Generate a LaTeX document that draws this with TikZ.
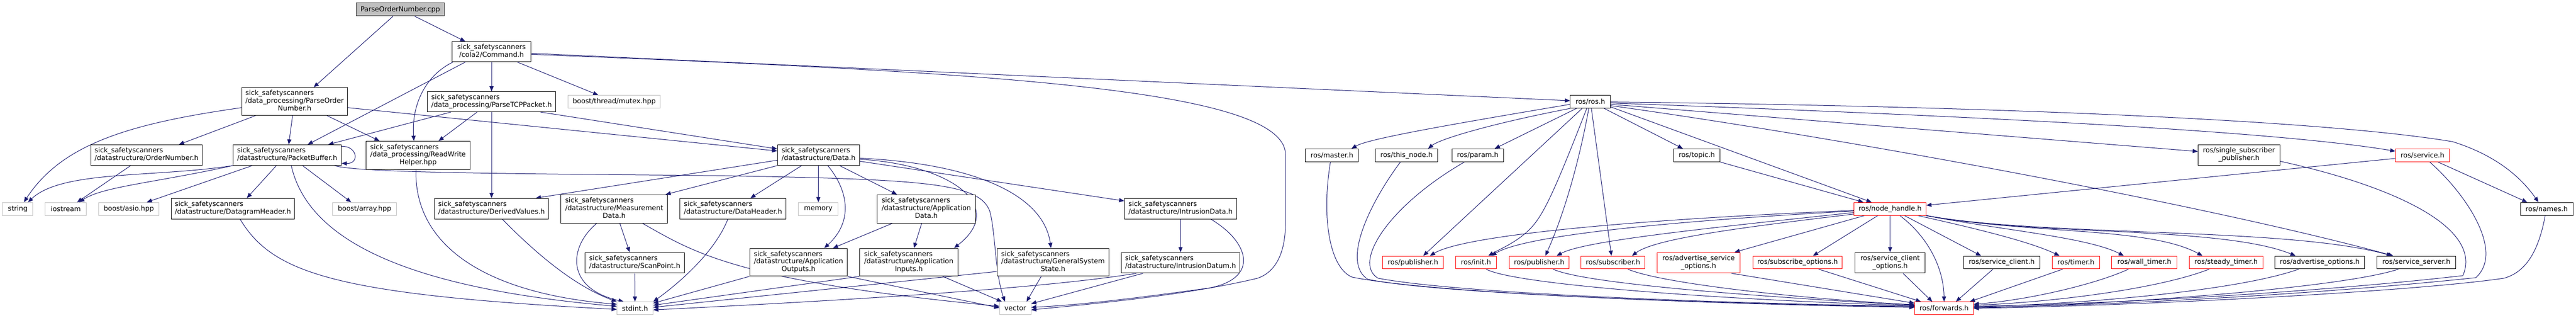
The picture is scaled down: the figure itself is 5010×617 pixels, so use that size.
\documentclass[tikz,border=0pt]{standalone}
\usepackage{fontspec}
\setmainfont{DejaVu Sans}
\usetikzlibrary{arrows.meta,calc}
\pgfdeclarelayer{bg}
\pgfsetlayers{bg,main}
\definecolor{edgec}{HTML}{191970}
\definecolor{extgray}{HTML}{BFBFBF}
\newcommand\nf{\fontsize{13.3}{14.7}\selectfont}
\newcommand\twoline[2]{\begin{tabular}{@{}l@{}}#1\\\multicolumn{1}{@{}c@{}}{#2}\end{tabular}}
\newcommand\threeline[3]{\begin{tabular}{@{}l@{}}#1\\#2\\\multicolumn{1}{@{}c@{}}{#3}\end{tabular}}
\newcommand\sick{sick\_safetyscanners}
\tikzset{
  box/.style={draw=black, line width=1pt, fill=white, inner sep=0pt, font=\nf},
  ext/.style={box, draw=extgray},
  trunc/.style={box, draw=red},
  rootbox/.style={box, fill=extgray, draw=black!80},
  e/.style={draw=edgec, line width=1pt, -{Triangle[length=10pt,width=8pt]}},
}
\begin{document}
\begin{tikzpicture}[x=1pt,y=-1pt]
\begin{pgfonlayer}{bg}
\fill[white] (0,0) rectangle (5010,617);
\end{pgfonlayer}
\useasboundingbox (0,0) rectangle (5010,617);
% ---- nodes ----
\node[rootbox, minimum width=171pt, minimum height=25pt] (cpp) at (778.5,18.5) {ParseOrderNumber.cpp};
\node[box, minimum width=154pt, minimum height=39pt] (cmd) at (956,100.5) {\twoline{\sick}{/cola2/Command.h}};
\node[box, minimum width=206pt, minimum height=54pt] (pon) at (573,197) {\threeline{\sick}{/data\_processing/ParseOrder}{Number.h}};
\node[box, minimum width=250pt, minimum height=39pt] (tcp) at (956,197.5) {\twoline{\sick}{/data\_processing/ParseTCPPacket.h}};
\node[ext, minimum width=179pt, minimum height=25pt] (mutex) at (1194.5,197.5) {boost/thread/mutex.hpp};
\node[box, minimum width=78pt, minimum height=25pt] (ros) at (3093,197.5) {ros/ros.h};
\node[box, minimum width=216pt, minimum height=40pt] (ordnum) at (285,301) {\twoline{\sick}{/datastructure/OrderNumber.h}};
\node[box, minimum width=211pt, minimum height=40pt] (pb) at (558.5,301) {\twoline{\sick}{/datastructure/PacketBuffer.h}};
\node[box, minimum width=202pt, minimum height=55pt] (rwh) at (813,301.5) {\threeline{\sick}{/data\_processing/ReadWrite}{Helper.hpp}};
\node[box, minimum width=160pt, minimum height=40pt] (data) at (1592,301) {\twoline{\sick}{/datastructure/Data.h}};
\node[box, minimum width=103pt, minimum height=25pt] (master) at (2590.5,301.5) {ros/master.h};
\node[box, minimum width=121pt, minimum height=25pt] (thisnode) at (2735.5,301.5) {ros/this\_node.h};
\node[box, minimum width=100pt, minimum height=25pt] (param) at (2874,301.5) {ros/param.h};
\node[box, minimum width=90pt, minimum height=25pt] (topic) at (3300,301.5) {ros/topic.h};
\node[box, minimum width=159pt, minimum height=40pt] (ssp) at (4354.5,301) {\twoline{ros/single\_subscriber}{\_publisher.h}};
\node[trunc, minimum width=105pt, minimum height=25pt] (service) at (4711.5,301.5) {ros/service.h};
\node[ext, minimum width=59pt, minimum height=25pt] (string) at (34.5,405.5) {string};
\node[ext, minimum width=80pt, minimum height=25pt] (iostream) at (128,405.5) {iostream};
\node[ext, minimum width=117pt, minimum height=25pt] (asio) at (250.5,405.5) {boost/asio.hpp};
\node[box, minimum width=240pt, minimum height=40pt] (dgh) at (453,405) {\twoline{\sick}{/datastructure/DatagramHeader.h}};
\node[ext, minimum width=124pt, minimum height=25pt] (array) at (709,405.5) {boost/array.hpp};
\node[box, minimum width=222pt, minimum height=40pt] (dv) at (956,405) {\twoline{\sick}{/datastructure/DerivedValues.h}};
\node[box, minimum width=207pt, minimum height=55pt] (md) at (1194.5,405.5) {\threeline{\sick}{/datastructure/Measurement}{Data.h}};
\node[box, minimum width=207pt, minimum height=40pt] (dh) at (1425.5,405) {\twoline{\sick}{/datastructure/DataHeader.h}};
\node[ext, minimum width=77pt, minimum height=25pt] (memory) at (1591.5,405.5) {memory};
\node[box, minimum width=191pt, minimum height=55pt] (ad) at (1801.5,405.5) {\threeline{\sick}{/datastructure/Application}{Data.h}};
\node[box, minimum width=218pt, minimum height=40pt] (idata) at (2296,405) {\twoline{\sick}{/datastructure/IntrusionData.h}};
\node[trunc, minimum width=140pt, minimum height=25pt] (nh) at (3676,405.5) {ros/node\_handle.h};
\node[box, minimum width=102pt, minimum height=25pt] (names) at (4953,405.5) {ros/names.h};
\node[box, minimum width=193pt, minimum height=40pt] (sp) at (1234.5,510) {\twoline{\sick}{/datastructure/ScanPoint.h}};
\node[box, minimum width=190pt, minimum height=54pt] (ao) at (1553,509) {\threeline{\sick}{/datastructure/Application}{Outputs.h}};
\node[box, minimum width=191pt, minimum height=54pt] (ai) at (1767.5,509) {\threeline{\sick}{/datastructure/Application}{Inputs.h}};
\node[box, minimum width=218pt, minimum height=54pt] (gss) at (2048,509) {\threeline{\sick}{/datastructure/GeneralSystem}{State.h}};
\node[box, minimum width=230pt, minimum height=40pt] (idatum) at (2296,510) {\twoline{\sick}{/datastructure/IntrusionDatum.h}};
\node[trunc, minimum width=118pt, minimum height=25pt] (pub1) at (2748,509.5) {ros/publisher.h};
\node[trunc, minimum width=79pt, minimum height=25pt] (init) at (2870.5,509.5) {ros/init.h};
\node[trunc, minimum width=117pt, minimum height=25pt] (pub2) at (2993.5,509.5) {ros/publisher.h};
\node[trunc, minimum width=124pt, minimum height=25pt] (sub) at (3137,509.5) {ros/subscriber.h};
\node[trunc, minimum width=161pt, minimum height=40pt] (aso) at (3303.5,510) {\twoline{ros/advertise\_service}{\_options.h}};
\node[trunc, minimum width=174pt, minimum height=25pt] (so) at (3496,509.5) {ros/subscribe\_options.h};
\node[box, minimum width=136pt, minimum height=40pt] (sco) at (3676,510) {\twoline{ros/service\_client}{\_options.h}};
\node[box, minimum width=148pt, minimum height=25pt] (sc) at (3893,509.5) {ros/service\_client.h};
\node[trunc, minimum width=93pt, minimum height=25pt] (timer) at (4037.5,509.5) {ros/timer.h};
\node[trunc, minimum width=127pt, minimum height=25pt] (wt) at (4170.5,509.5) {ros/wall\_timer.h};
\node[trunc, minimum width=143pt, minimum height=25pt] (st) at (4329.5,509.5) {ros/steady\_timer.h};
\node[box, minimum width=175pt, minimum height=25pt] (adopt) at (4511.5,509.5) {ros/advertise\_options.h};
\node[box, minimum width=153pt, minimum height=25pt] (ss) at (4699.5,509.5) {ros/service\_server.h};
\node[ext, minimum width=70pt, minimum height=25pt] (stdint) at (1235,598.5) {stdint.h};
\node[ext, minimum width=61pt, minimum height=25pt] (vector) at (1974.5,598.5) {vector};
\node[trunc, minimum width=114pt, minimum height=25pt] (fwd) at (3781,598.5) {ros/forwards.h};
% ---- edges ----
\begin{pgfonlayer}{bg}
\draw[e] ($(cpp.south)+(-14,0)$) -- ($(pon.north)+(37,0)$);
\draw[e] ($(cpp.south)+(28,0)$) -- ($(cmd.north)+(-51,0)$);
\draw[e] ($(cmd.south)+(-51,0)$) -- ($(pb.north)+(40,0)$);
\draw[e] ($(cmd.south)+(-75,0)$) .. controls (830,145) and (800,200) .. ($(rwh.north)+(-8,0)$);
\draw[e] (cmd) -- (tcp);
\draw[e] ($(cmd.south)+(50,0)$) -- ($(mutex.north)+(-31,0)$);
\draw[e] ($(cmd.east)+(0,3)$) -- ($(ros.west)+(0,-2)$);
\draw[e] ($(cmd.east)+(0,5)$) .. controls (1900,140) and (2500,170) .. (2500,300) -- (2500,433) .. controls (2500,500) and (2475,530) .. (2446,540) .. controls (2300,575) and (2100,592) .. ($(vector.east)+(0,3)$);
\draw[e] ($(pon.west)+(0,12)$) .. controls (250,240) and (120,280) .. ($(string.north)+(12,0)$);
\draw[e] ($(pon.south)+(-76,0)$) -- ($(ordnum.north)+(63,0)$);
\draw[e] ($(pon.south)+(-4,0)$) -- ($(pb.north)+(3,0)$);
\draw[e] ($(pon.south)+(63,0)$) -- ($(rwh.north)+(-75,0)$);
\draw[e] ($(pon.east)+(0,12)$) -- ($(data.west)+(0,-8)$);
\draw[e] ($(tcp.south)+(-79,0)$) -- ($(pb.north)+(80,0)$);
\draw[e] ($(tcp.south)+(-28,0)$) -- ($(rwh.north)+(40,0)$);
\draw[e] (tcp) -- (dv);
\draw[e] ($(tcp.south)+(95,0)$) -- ($(data.west)+(0,-12)$);
\draw[e] ($(pb.east)+(0,-17)$) .. controls (695,283) and (700,318) .. ($(pb.east)+(0,16)$);
\draw[e] (pb.south west) .. controls (300,345) and (120,330) .. ($(string.north)+(20,0)$);
\draw[e] (pb.south west) .. controls (300,355) and (200,362) .. ($(iostream.north)+(26,0)$);
\draw[e] ($(ordnum.south)+(-31,0)$) -- ($(iostream.north)+(22,0)$);
\draw[e] ($(pb.south)+(-68,0)$) -- ($(asio.north)+(35,0)$);
\draw[e] ($(pb.south)+(-21,0)$) -- ($(dgh.north)+(27,0)$);
\draw[e] ($(pb.south)+(30,0)$) -- ($(array.north)+(-26,0)$);
\draw[e] ($(pb.south)+(8,0)$) .. controls (600,470) and (800,560) .. ($(stdint.west)+(0,-4)$);
\draw[e] ($(pb.south)+(92,0)$) .. controls (700,336) and (1000,337) .. (1400,341) .. controls (1800,348) and (1905,355) .. (1925,410) .. controls (1936,450) and (1935,530) .. ($(vector.north)+(-20,0)$);
\draw[e] ($(dgh.south)+(14,0)$) .. controls (530,530) and (650,572) .. ($(stdint.west)+(0,2)$);
\draw[e] ($(rwh.south)+(-4,0)$) .. controls (805,480) and (950,570) .. ($(stdint.west)+(0,-8)$);
\draw[e] ($(dv.south)+(21,0)$) .. controls (1060,510) and (1130,560) .. (stdint.north west);
\draw[e] ($(md.south)+(11,0)$) -- ($(sp.north)+(-10,0)$);
\draw[e] ($(md.south)+(-34,0)$) .. controls (1105,480) and (1100,560) .. ($(stdint.north)+(-22,0)$);
\draw[e] ($(md.south)+(55,0)$) .. controls (1350,490) and (1430,545) .. ($(vector.west)+(0,-4)$);
\draw[e] (sp) -- (stdint);
\draw[e] ($(dh.south)+(-10,0)$) .. controls (1390,490) and (1320,550) .. (stdint.north east);
\draw[e] ($(data.west)+(0,10)$) -- ($(dv.north)+(86,0)$);
\draw[e] (data.south west) -- ($(md.north)+(100,0)$);
\draw[e] ($(data.south)+(-33,0)$) -- ($(dh.north)+(34,0)$);
\draw[e] (data) -- (memory);
\draw[e] ($(data.south)+(18,0)$) .. controls (1650,370) and (1660,430) .. ($(ao.north)+(50,0)$);
\draw[e] ($(data.south)+(41,0)$) -- ($(ad.north)+(-57,0)$);
\draw[e] ($(data.east)+(0,8)$) .. controls (1850,320) and (1960,400) .. ($(ai.north)+(88,0)$);
\draw[e] ($(data.east)+(0,6)$) .. controls (1900,318) and (2030,380) .. ($(gss.north)+(-4,0)$);
\draw[e] ($(data.east)+(0,12)$) -- ($(idata.west)+(0,-15)$);
\draw[e] ($(ad.south)+(-66,0)$) -- ($(ao.north)+(67,0)$);
\draw[e] ($(ad.south)+(-9,0)$) -- ($(ai.north)+(10,0)$);
\draw[e] (ao.south west) -- ($(stdint.east)+(0,-10)$);
\draw[e] (ao.south east) -- ($(vector.west)+(0,-1)$);
\draw[e] (ai.south west) -- ($(stdint.east)+(0,-6)$);
\draw[e] ($(ai.south)+(66,0)$) -- ($(vector.north)+(-26,0)$);
\draw[e] ($(gss.west)+(0,18)$) -- ($(stdint.east)+(0,-2)$);
\draw[e] ($(gss.south)+(-23,0)$) -- ($(vector.north)+(22,0)$);
\draw[e] (idata) -- (idatum);
\draw[e] ($(idata.south)+(59,0)$) .. controls (2430,470) and (2450,540) .. (2352,559) .. controls (2200,580) and (2100,592) .. ($(vector.east)+(0,-2)$);
\draw[e] ($(idatum.south)+(-86,0)$) .. controls (2000,565) and (1500,590) .. ($(stdint.east)+(0,3)$);
\draw[e] ($(idatum.south)+(-73,0)$) -- ($(vector.east)+(0,-9)$);
% ros part
\draw[e] ($(ros.west)+(0,5)$) .. controls (2800,245) and (2660,270) .. ($(master.north)+(38,0)$);
\draw[e] (ros.south west) .. controls (2900,240) and (2800,270) .. ($(thisnode.north)+(42,0)$);
\draw[e] ($(ros.south)+(-27,0)$) -- ($(param.north)+(33,0)$);
\draw[e] ($(ros.south)+(-16,0)$) -- ($(pub1.north)+(20,0)$);
\draw[e] ($(ros.south)+(-7,0)$) .. controls (3020,380) and (3000,420) .. (2975,445) .. controls (2950,470) and (2920,482) .. ($(init.north)+(24,0)$);
\draw[e] ($(ros.south)+(-3,0)$) .. controls (3070,320) and (3040,420) .. ($(pub2.north)+(12,0)$);
\draw[e] ($(ros.south)+(2,0)$) -- ($(sub.north)+(-3,0)$);
\draw[e] ($(ros.south)+(27,0)$) -- ($(topic.north)+(-27,0)$);
\draw[e] ($(ros.east)+(0,10)$) -- ($(nh.north)+(-36,0)$);
\draw[e] (topic.south east) -- ($(nh.north)+(-52,0)$);
\draw[e] ($(ros.east)+(0,5)$) -- ($(ssp.west)+(0,-7)$);
\draw[e] ($(ros.east)+(0,2.5)$) .. controls (3700,220) and (4400,250) .. ($(service.west)+(0,-8)$);
\draw[e] ($(ros.east)+(0,0.5)$) .. controls (3800,205) and (4500,230) .. (4770,275) .. controls (4850,300) and (4900,340) .. ($(names.north)+(-16,0)$);
\draw[e] ($(ros.east)+(0,7.5)$) .. controls (3600,270) and (4300,400) .. ($(ss.north)+(-45,0)$);
\draw[e] ($(service.west)+(0,6)$) -- ($(nh.east)+(0,-7)$);
\draw[e] ($(service.south)+(30,0)$) -- ($(names.north)+(-38,0)$);
\draw[e] ($(service.south)+(14,0)$) .. controls (4800,380) and (4870,490) .. (4815,539) .. controls (4500,572) and (4100,593) .. ($(fwd.east)+(0,-2)$);
\draw[e] ($(ssp.east)+(0,12)$) .. controls (4650,360) and (4830,440) .. (4790,535) .. controls (4500,568) and (4100,590) .. ($(fwd.east)+(0,-4)$);
\draw[e] ($(names.south)+(-3,0)$) .. controls (4935,500) and (4905,530) .. (4870,540) .. controls (4700,565) and (4200,592) .. (fwd.east);
\draw[e] ($(master.south)+(-3,0)$) .. controls (2570,420) and (2585,520) .. (2630,538) .. controls (2800,572) and (3400,592) .. ($(fwd.west)+(0,-2)$);
\draw[e] ($(thisnode.south)+(-12,0)$) .. controls (2660,400) and (2610,510) .. (2660,542) .. controls (2800,572) and (3400,591) .. ($(fwd.west)+(0,-3)$);
\draw[e] ($(param.south)+(-26,0)$) .. controls (2700,400) and (2630,510) .. (2680,540) .. controls (2850,572) and (3400,590) .. ($(fwd.west)+(0,-4)$);
\draw[e] ($(init.south)+(20,0)$) .. controls (2940,550) and (3300,580) .. ($(fwd.west)+(0,-5)$);
\draw[e] ($(pub2.south)+(27,0)$) .. controls (3080,550) and (3400,575) .. ($(fwd.west)+(0,-6)$);
\draw[e] ($(sub.south)+(29,0)$) .. controls (3230,550) and (3500,580) .. ($(fwd.west)+(0,-7)$);
\draw[e] ($(aso.south)+(64,0)$) -- ($(fwd.west)+(0,-10)$);
\draw[e] ($(so.south)+(41,0)$) -- ($(fwd.north)+(-45,0)$);
\draw[e] ($(sco.south)+(25,0)$) -- ($(fwd.north)+(-23,0)$);
\draw[e] ($(nh.south)+(19,0)$) .. controls (3750,460) and (3780,520) .. (fwd.north);
\draw[e] ($(sc.south)+(-17,0)$) -- ($(fwd.north)+(23,0)$);
\draw[e] ($(timer.south)+(-26,0)$) -- ($(fwd.north)+(50,0)$);
\draw[e] ($(wt.south)+(-31,0)$) .. controls (4080,550) and (3950,582) .. ($(fwd.east)+(0,-8)$);
\draw[e] ($(st.south)+(-33,0)$) .. controls (4200,560) and (4000,586) .. ($(fwd.east)+(0,-6)$);
\draw[e] ($(adopt.south)+(-41,0)$) .. controls (4350,565) and (4050,590) .. ($(fwd.east)+(0,-3)$);
\draw[e] ($(ss.south)+(-35,0)$) .. controls (4550,560) and (4100,592) .. ($(fwd.east)+(0,-1)$);
\draw[e] ($(nh.west)+(0,3)$) .. controls (3200,425) and (2850,455) .. ($(pub1.north)+(33,0)$);
\draw[e] ($(nh.west)+(0,4)$) .. controls (3200,432) and (2960,460) .. ($(init.north)+(30,0)$);
\draw[e] ($(nh.west)+(0,7)$) .. controls (3300,445) and (3080,468) .. ($(pub2.north)+(34,0)$);
\draw[e] ($(nh.west)+(0,10)$) .. controls (3400,440) and (3220,462) .. ($(sub.north)+(37,0)$);
\draw[e] ($(nh.south)+(-50,0)$) -- ($(aso.north)+(70,0)$);
\draw[e] ($(nh.south)+(-24,0)$) -- ($(so.north)+(30,0)$);
\draw[e] (nh) -- (sco);
\draw[e] ($(nh.south)+(28,0)$) -- ($(sc.north)+(-40,0)$);
\draw[e] ($(nh.south)+(54,0)$) .. controls (3850,445) and (3950,470) .. ($(timer.north)+(-32,0)$);
\draw[e] (nh.south east) .. controls (3880,445) and (4060,460) .. ($(wt.north)+(-40,0)$);
\draw[e] (nh.south east) .. controls (3950,455) and (4180,440) .. ($(st.north)+(-46,0)$);
\draw[e] (nh.south east) .. controls (3950,458) and (4320,438) .. ($(adopt.north)+(-47,0)$);
\draw[e] (nh.south east) .. controls (3980,460) and (4450,440) .. ($(ss.north)+(-48,0)$);
\end{pgfonlayer}
\end{tikzpicture}
\end{document}
